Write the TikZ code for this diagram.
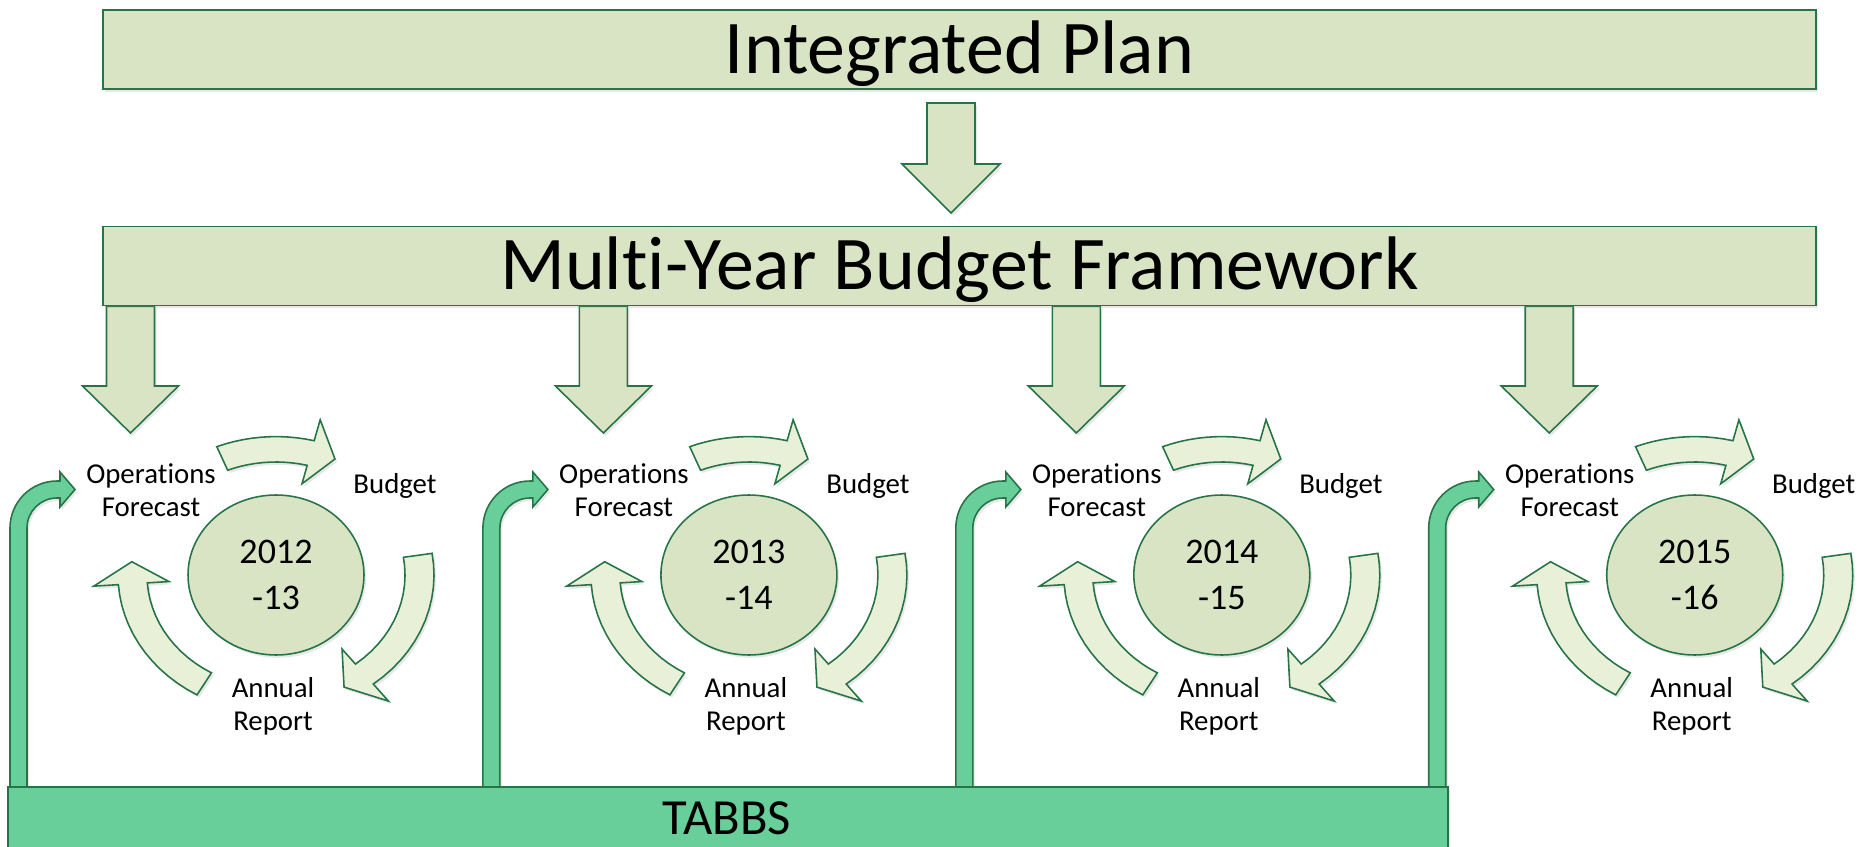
\documentclass[tikz,border=0pt]{standalone}
\usepackage{fontspec}
\setmainfont{Carlito}[Ligatures=NoCommon]
\usetikzlibrary{shapes.geometric,shadows}

\definecolor{boxgreen}{RGB}{217,228,197}
\definecolor{edgegreen}{RGB}{39,116,72}
\definecolor{ringgreen}{RGB}{232,241,215}
\definecolor{tabbsgreen}{RGB}{104,207,155}

\tikzset{
  softshadow/.style={drop shadow={opacity=0.18,shadow xshift=1.2pt,shadow yshift=-1.6pt}},
  titlebox/.style={shape=rectangle,draw=edgegreen,line width=0.9pt,fill=boxgreen,softshadow,
    minimum width=34.26cm,minimum height=1.58cm,inner sep=0pt,
    font=\fontsize{43.2}{50}\selectfont,text height=27.3pt,text depth=0pt},
  blockarrow/.style={draw=edgegreen,line width=0.9pt,fill=boxgreen,softshadow},
  ringarrow/.style={draw=edgegreen,line width=0.9pt,fill=ringgreen,softshadow},
  tabbsarrow/.style={draw=edgegreen,line width=0.9pt,fill=tabbsgreen,softshadow},
  yearcircle/.style={shape=ellipse,draw=edgegreen,line width=0.9pt,fill=boxgreen,softshadow,
    minimum width=3.52cm,minimum height=3.2cm,inner sep=0pt,align=center,
    font=\fontsize{20.5}{26.2}\selectfont},
  stagetext/.style={inner sep=0pt,align=center,font=\fontsize{16.4}{18.8}\selectfont},
  tabbsbar/.style={shape=rectangle,draw=edgegreen,line width=0.9pt,fill=tabbsgreen,softshadow,
    minimum width=28.8cm,minimum height=1.86cm,inner sep=0pt}
}

\begin{document}
\begin{tikzpicture}[x=0.02cm,y=-0.02cm]
    \useasboundingbox (0,0) rectangle (1868,847);
    \clip (0,0) rectangle (1868,847);

    \foreach \g/\first/\second in {0/2012/13,1/2013/14,2/2014/15,3/2015/16}{
      \begin{scope}[xshift=\g*9.46cm]
        \draw[blockarrow] (106.5,306) -- (154.5,306) -- (154.5,386) -- (178.5,386) -- (130.5,433) -- (82.5,386) -- (106.5,386) -- cycle;
        \draw[tabbsarrow] (10,787) -- (10,528) arc[start angle=180,end angle=90,radius=0.94cm] -- (60,481) -- (60,472) -- (75,489.5) -- (60,507) -- (60,498) -- (57,498) arc[start angle=90,end angle=180,radius=0.6cm] -- (27,787) -- cycle;
        \node[yearcircle] (Year \g) at (276,575) {\first\\-\second};
        \node[stagetext] (Forecast \g) at (151,490) {Operat\kern0pt ions\\Forecast};
        \node[stagetext] (Budget \g) at (395,486) {Budget};
        \node[stagetext] (Report \g) at (273,706) {Annual\\Report};
        \begin{scope}[shift={(276,575)},x=2.9cm,y=2.54cm]
          \draw[ringarrow] plot[domain=112:76,samples=12] (\x:1.09) -- (76:1.26) -- (66:1) -- (76:0.74) -- plot[domain=76:112,samples=12] (\x:0.89) -- cycle;
          \draw[ringarrow] plot[domain=9:-52,samples=14] (\x:1.09) -- (-52:1.26) -- (-62:1) -- (-52:0.74) -- plot[domain=-52:9,samples=14] (\x:0.89) -- cycle;
          \draw[ringarrow] plot[domain=240:184,samples=14] (\x:1.09) -- (184:1.26) -- (174:1) -- (184:0.74) -- plot[domain=184:240,samples=14] (\x:0.89) -- cycle;
        \end{scope}
      \end{scope}
    }

    \draw[blockarrow] (927,103) -- (975,103) -- (975,164) -- (1000,164) -- (951,213) -- (902,164) -- (927,164) -- cycle;
    \node[titlebox] (Integrated Plan) at (959.5,49.5) {Integrated Plan};
    \node[titlebox] (Budget Framework) at (959.5,266) {Mult\kern0pt i-Year Budget Framework};

    \node[tabbsbar] (TABBS bar) at (728,833.5) {};
    \node[font=\fontsize{28.8}{34}\selectfont,inner sep=0pt,text height=18.2pt,text depth=0pt] (TABBS) at (727,819) {TABBS};
\end{tikzpicture}
\end{document}
